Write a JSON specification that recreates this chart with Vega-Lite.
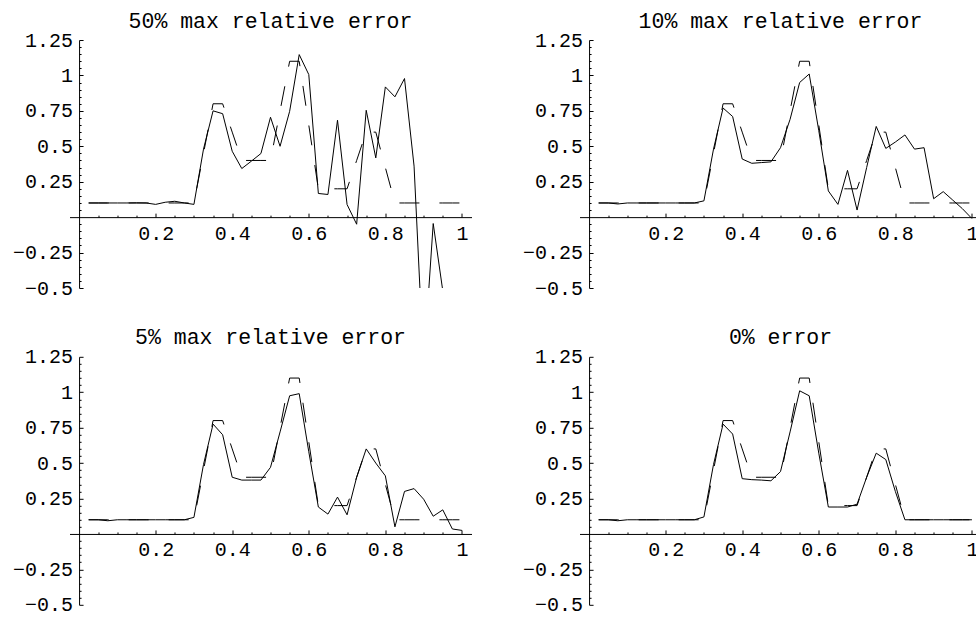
{
  "$schema": "https://vega.github.io/schema/vega-lite/v6.json",
  "padding": {"left": 12.5, "top": 10, "right": 5, "bottom": 8},
  "data": {"values": [
    {"x": 0.025, "truth": 0.1, "e50": 0.1, "e10": 0.1, "e5": 0.1, "e0": 0.1},
    {"x": 0.05, "truth": 0.1, "e50": 0.1, "e10": 0.1, "e5": 0.1, "e0": 0.1},
    {"x": 0.075, "truth": 0.1, "e50": 0.1, "e10": 0.093, "e5": 0.093, "e0": 0.093},
    {"x": 0.1, "truth": 0.1, "e50": 0.1, "e10": 0.1, "e5": 0.1, "e0": 0.1},
    {"x": 0.125, "truth": 0.1, "e50": 0.1, "e10": 0.1, "e5": 0.1, "e0": 0.1},
    {"x": 0.15, "truth": 0.1, "e50": 0.101, "e10": 0.1, "e5": 0.1, "e0": 0.1},
    {"x": 0.175, "truth": 0.1, "e50": 0.1, "e10": 0.1, "e5": 0.1, "e0": 0.1},
    {"x": 0.2, "truth": 0.1, "e50": 0.09, "e10": 0.1, "e5": 0.1, "e0": 0.1},
    {"x": 0.225, "truth": 0.1, "e50": 0.105, "e10": 0.1, "e5": 0.1, "e0": 0.1},
    {"x": 0.25, "truth": 0.1, "e50": 0.112, "e10": 0.1, "e5": 0.1, "e0": 0.1},
    {"x": 0.275, "truth": 0.1, "e50": 0.1, "e10": 0.1, "e5": 0.1, "e0": 0.1},
    {"x": 0.3, "truth": 0.1, "e50": 0.09, "e10": 0.115, "e5": 0.117, "e0": 0.12},
    {"x": 0.325, "truth": 0.45, "e50": 0.48, "e10": 0.48, "e5": 0.49, "e0": 0.49},
    {"x": 0.35, "truth": 0.8, "e50": 0.75, "e10": 0.77, "e5": 0.775, "e0": 0.775},
    {"x": 0.375, "truth": 0.8, "e50": 0.73, "e10": 0.71, "e5": 0.7, "e0": 0.705},
    {"x": 0.4, "truth": 0.6, "e50": 0.465, "e10": 0.41, "e5": 0.4, "e0": 0.39},
    {"x": 0.425, "truth": 0.4, "e50": 0.343, "e10": 0.38, "e5": 0.38, "e0": 0.383},
    {"x": 0.45, "truth": 0.4, "e50": 0.395, "e10": 0.385, "e5": 0.38, "e0": 0.38},
    {"x": 0.475, "truth": 0.4, "e50": 0.449, "e10": 0.39, "e5": 0.38, "e0": 0.375},
    {"x": 0.5, "truth": 0.4, "e50": 0.705, "e10": 0.49, "e5": 0.47, "e0": 0.44},
    {"x": 0.525, "truth": 0.75, "e50": 0.5, "e10": 0.69, "e5": 0.72, "e0": 0.72},
    {"x": 0.55, "truth": 1.1, "e50": 0.747, "e10": 0.95, "e5": 0.975, "e0": 1.01},
    {"x": 0.575, "truth": 1.1, "e50": 1.147, "e10": 1.01, "e5": 0.99, "e0": 0.975},
    {"x": 0.6, "truth": 0.65, "e50": 1.006, "e10": 0.61, "e5": 0.58, "e0": 0.57},
    {"x": 0.625, "truth": 0.2, "e50": 0.167, "e10": 0.185, "e5": 0.19, "e0": 0.19},
    {"x": 0.65, "truth": 0.2, "e50": 0.16, "e10": 0.09, "e5": 0.14, "e0": 0.19},
    {"x": 0.675, "truth": 0.2, "e50": 0.684, "e10": 0.33, "e5": 0.26, "e0": 0.19},
    {"x": 0.7, "truth": 0.2, "e50": 0.089, "e10": 0.05, "e5": 0.135, "e0": 0.21},
    {"x": 0.725, "truth": 0.4, "e50": -0.05, "e10": 0.35, "e5": 0.4, "e0": 0.4},
    {"x": 0.75, "truth": 0.6, "e50": 0.754, "e10": 0.64, "e5": 0.6, "e0": 0.57},
    {"x": 0.775, "truth": 0.6, "e50": 0.418, "e10": 0.485, "e5": 0.5, "e0": 0.525},
    {"x": 0.8, "truth": 0.35, "e50": 0.919, "e10": 0.53, "e5": 0.41, "e0": 0.3},
    {"x": 0.825, "truth": 0.1, "e50": 0.849, "e10": 0.58, "e5": 0.05, "e0": 0.1},
    {"x": 0.85, "truth": 0.1, "e50": 0.978, "e10": 0.48, "e5": 0.3, "e0": 0.1},
    {"x": 0.875, "truth": 0.1, "e50": 0.36, "e10": 0.49, "e5": 0.32, "e0": 0.1},
    {"x": 0.9, "truth": 0.1, "e50": -1.05, "e10": 0.13, "e5": 0.245, "e0": 0.1},
    {"x": 0.925, "truth": 0.1, "e50": -0.045, "e10": 0.18, "e5": 0.125, "e0": 0.1},
    {"x": 0.95, "truth": 0.1, "e50": -0.52, "e10": 0.12, "e5": 0.17, "e0": 0.1},
    {"x": 0.975, "truth": 0.1, "e50": -1.3, "e10": 0.06, "e5": 0.035, "e0": 0.1},
    {"x": 1.0, "truth": 0.1, "e50": -0.9, "e10": -0.01, "e5": 0.025, "e0": 0.1}
  ]},
  "columns": 2,
  "spacing": {"row": 68.8, "column": 108},
  "bounds": "flush",
  "concat": [
    {
      "title": {"text": "50% max relative error"},
      "width": 402, "height": 248,
      "layer": [
        {"mark": {"type": "line", "color": "black", "strokeWidth": 1, "strokeDash": [20, 20], "clip": true},
         "encoding": {
           "x": {"field": "x", "type": "quantitative", "scale": {"domain": [-0.025, 1.025], "nice": false, "zero": false},
                 "axis": {"orient": "top", "offset": -177.14, "title": null, "labels": false, "domain": false, "grid": false,
                          "values": [0.05,0.1,0.15,0.2,0.25,0.3,0.35,0.4,0.45,0.5,0.55,0.6,0.65,0.7,0.75,0.8,0.85,0.9,0.95,1],
                          "tickColor": "black", "tickWidth": 1,
                          "tickSize": {"condition": {"test": "abs(datum.value/0.2 - round(datum.value/0.2)) < 0.01", "value": 4}, "value": 2}}},
           "y": {"field": "truth", "type": "quantitative", "scale": {"domain": [-0.5, 1.25], "nice": false, "zero": false},
                 "axis": {"orient": "right", "offset": -392.43, "title": null, "labels": false, "domain": false, "grid": false,
                          "values": [-0.5,-0.45,-0.4,-0.35,-0.3,-0.25,-0.2,-0.15,-0.1,-0.05,0.05,0.1,0.15,0.2,0.25,0.3,0.35,0.4,0.45,0.5,0.55,0.6,0.65,0.7,0.75,0.8,0.85,0.9,0.95,1,1.05,1.1,1.15,1.2,1.25],
                          "tickColor": "black", "tickWidth": 1,
                          "tickSize": {"condition": {"test": "abs(datum.value/0.25 - round(datum.value/0.25)) < 0.01", "value": 4}, "value": 2}}}
         }},
        {"mark": {"type": "line", "color": "black", "strokeWidth": 1, "clip": true},
         "encoding": {
           "x": {"field": "x", "type": "quantitative", "scale": {"domain": [-0.025, 1.025], "nice": false, "zero": false},
                 "axis": {"orient": "bottom", "offset": -70.86, "title": null, "ticks": false, "tickSize": 0, "grid": false,
                          "values": [0.2, 0.4, 0.6, 0.8, 1], "labelExpr": "datum.value + ''", "labelPadding": 6,
                          "domain": true, "domainColor": "black", "domainWidth": 1}},
           "y": {"field": "e50", "type": "quantitative", "scale": {"domain": [-0.5, 1.25], "nice": false, "zero": false},
                 "axis": {"orient": "left", "offset": -9.57, "title": null, "ticks": false, "tickSize": 0, "grid": false,
                          "values": [-0.5, -0.25, 0.25, 0.5, 0.75, 1, 1.25], "labelExpr": "replace(datum.value + '', '-', '\u2212')", "labelPadding": 6.5,
                          "domain": true, "domainColor": "black", "domainWidth": 1}}
         }}
      ],
      "resolve": {"axis": {"x": "independent", "y": "independent"}}
    },
    {
      "title": {"text": "10% max relative error"},
      "width": 402, "height": 248,
      "layer": [
        {"mark": {"type": "line", "color": "black", "strokeWidth": 1, "strokeDash": [20, 20], "clip": true},
         "encoding": {
           "x": {"field": "x", "type": "quantitative", "scale": {"domain": [-0.025, 1.025], "nice": false, "zero": false},
                 "axis": {"orient": "top", "offset": -177.14, "title": null, "labels": false, "domain": false, "grid": false,
                          "values": [0.05,0.1,0.15,0.2,0.25,0.3,0.35,0.4,0.45,0.5,0.55,0.6,0.65,0.7,0.75,0.8,0.85,0.9,0.95,1],
                          "tickColor": "black", "tickWidth": 1,
                          "tickSize": {"condition": {"test": "abs(datum.value/0.2 - round(datum.value/0.2)) < 0.01", "value": 4}, "value": 2}}},
           "y": {"field": "truth", "type": "quantitative", "scale": {"domain": [-0.5, 1.25], "nice": false, "zero": false},
                 "axis": {"orient": "right", "offset": -392.43, "title": null, "labels": false, "domain": false, "grid": false,
                          "values": [-0.5,-0.45,-0.4,-0.35,-0.3,-0.25,-0.2,-0.15,-0.1,-0.05,0.05,0.1,0.15,0.2,0.25,0.3,0.35,0.4,0.45,0.5,0.55,0.6,0.65,0.7,0.75,0.8,0.85,0.9,0.95,1,1.05,1.1,1.15,1.2,1.25],
                          "tickColor": "black", "tickWidth": 1,
                          "tickSize": {"condition": {"test": "abs(datum.value/0.25 - round(datum.value/0.25)) < 0.01", "value": 4}, "value": 2}}}
         }},
        {"mark": {"type": "line", "color": "black", "strokeWidth": 1, "clip": true},
         "encoding": {
           "x": {"field": "x", "type": "quantitative", "scale": {"domain": [-0.025, 1.025], "nice": false, "zero": false},
                 "axis": {"orient": "bottom", "offset": -70.86, "title": null, "ticks": false, "tickSize": 0, "grid": false,
                          "values": [0.2, 0.4, 0.6, 0.8, 1], "labelExpr": "datum.value + ''", "labelPadding": 6,
                          "domain": true, "domainColor": "black", "domainWidth": 1}},
           "y": {"field": "e10", "type": "quantitative", "scale": {"domain": [-0.5, 1.25], "nice": false, "zero": false},
                 "axis": {"orient": "left", "offset": -9.57, "title": null, "ticks": false, "tickSize": 0, "grid": false,
                          "values": [-0.5, -0.25, 0.25, 0.5, 0.75, 1, 1.25], "labelExpr": "replace(datum.value + '', '-', '\u2212')", "labelPadding": 6.5,
                          "domain": true, "domainColor": "black", "domainWidth": 1}}
         }}
      ],
      "resolve": {"axis": {"x": "independent", "y": "independent"}}
    },
    {
      "title": {"text": "5% max relative error"},
      "width": 402, "height": 248,
      "layer": [
        {"mark": {"type": "line", "color": "black", "strokeWidth": 1, "strokeDash": [20, 20], "clip": true},
         "encoding": {
           "x": {"field": "x", "type": "quantitative", "scale": {"domain": [-0.025, 1.025], "nice": false, "zero": false},
                 "axis": {"orient": "top", "offset": -177.14, "title": null, "labels": false, "domain": false, "grid": false,
                          "values": [0.05,0.1,0.15,0.2,0.25,0.3,0.35,0.4,0.45,0.5,0.55,0.6,0.65,0.7,0.75,0.8,0.85,0.9,0.95,1],
                          "tickColor": "black", "tickWidth": 1,
                          "tickSize": {"condition": {"test": "abs(datum.value/0.2 - round(datum.value/0.2)) < 0.01", "value": 4}, "value": 2}}},
           "y": {"field": "truth", "type": "quantitative", "scale": {"domain": [-0.5, 1.25], "nice": false, "zero": false},
                 "axis": {"orient": "right", "offset": -392.43, "title": null, "labels": false, "domain": false, "grid": false,
                          "values": [-0.5,-0.45,-0.4,-0.35,-0.3,-0.25,-0.2,-0.15,-0.1,-0.05,0.05,0.1,0.15,0.2,0.25,0.3,0.35,0.4,0.45,0.5,0.55,0.6,0.65,0.7,0.75,0.8,0.85,0.9,0.95,1,1.05,1.1,1.15,1.2,1.25],
                          "tickColor": "black", "tickWidth": 1,
                          "tickSize": {"condition": {"test": "abs(datum.value/0.25 - round(datum.value/0.25)) < 0.01", "value": 4}, "value": 2}}}
         }},
        {"mark": {"type": "line", "color": "black", "strokeWidth": 1, "clip": true},
         "encoding": {
           "x": {"field": "x", "type": "quantitative", "scale": {"domain": [-0.025, 1.025], "nice": false, "zero": false},
                 "axis": {"orient": "bottom", "offset": -70.86, "title": null, "ticks": false, "tickSize": 0, "grid": false,
                          "values": [0.2, 0.4, 0.6, 0.8, 1], "labelExpr": "datum.value + ''", "labelPadding": 6,
                          "domain": true, "domainColor": "black", "domainWidth": 1}},
           "y": {"field": "e5", "type": "quantitative", "scale": {"domain": [-0.5, 1.25], "nice": false, "zero": false},
                 "axis": {"orient": "left", "offset": -9.57, "title": null, "ticks": false, "tickSize": 0, "grid": false,
                          "values": [-0.5, -0.25, 0.25, 0.5, 0.75, 1, 1.25], "labelExpr": "replace(datum.value + '', '-', '\u2212')", "labelPadding": 6.5,
                          "domain": true, "domainColor": "black", "domainWidth": 1}}
         }}
      ],
      "resolve": {"axis": {"x": "independent", "y": "independent"}}
    },
    {
      "title": {"text": "0% error"},
      "width": 402, "height": 248,
      "layer": [
        {"mark": {"type": "line", "color": "black", "strokeWidth": 1, "strokeDash": [20, 20], "clip": true},
         "encoding": {
           "x": {"field": "x", "type": "quantitative", "scale": {"domain": [-0.025, 1.025], "nice": false, "zero": false},
                 "axis": {"orient": "top", "offset": -177.14, "title": null, "labels": false, "domain": false, "grid": false,
                          "values": [0.05,0.1,0.15,0.2,0.25,0.3,0.35,0.4,0.45,0.5,0.55,0.6,0.65,0.7,0.75,0.8,0.85,0.9,0.95,1],
                          "tickColor": "black", "tickWidth": 1,
                          "tickSize": {"condition": {"test": "abs(datum.value/0.2 - round(datum.value/0.2)) < 0.01", "value": 4}, "value": 2}}},
           "y": {"field": "truth", "type": "quantitative", "scale": {"domain": [-0.5, 1.25], "nice": false, "zero": false},
                 "axis": {"orient": "right", "offset": -392.43, "title": null, "labels": false, "domain": false, "grid": false,
                          "values": [-0.5,-0.45,-0.4,-0.35,-0.3,-0.25,-0.2,-0.15,-0.1,-0.05,0.05,0.1,0.15,0.2,0.25,0.3,0.35,0.4,0.45,0.5,0.55,0.6,0.65,0.7,0.75,0.8,0.85,0.9,0.95,1,1.05,1.1,1.15,1.2,1.25],
                          "tickColor": "black", "tickWidth": 1,
                          "tickSize": {"condition": {"test": "abs(datum.value/0.25 - round(datum.value/0.25)) < 0.01", "value": 4}, "value": 2}}}
         }},
        {"mark": {"type": "line", "color": "black", "strokeWidth": 1, "clip": true},
         "encoding": {
           "x": {"field": "x", "type": "quantitative", "scale": {"domain": [-0.025, 1.025], "nice": false, "zero": false},
                 "axis": {"orient": "bottom", "offset": -70.86, "title": null, "ticks": false, "tickSize": 0, "grid": false,
                          "values": [0.2, 0.4, 0.6, 0.8, 1], "labelExpr": "datum.value + ''", "labelPadding": 6,
                          "domain": true, "domainColor": "black", "domainWidth": 1}},
           "y": {"field": "e0", "type": "quantitative", "scale": {"domain": [-0.5, 1.25], "nice": false, "zero": false},
                 "axis": {"orient": "left", "offset": -9.57, "title": null, "ticks": false, "tickSize": 0, "grid": false,
                          "values": [-0.5, -0.25, 0.25, 0.5, 0.75, 1, 1.25], "labelExpr": "replace(datum.value + '', '-', '\u2212')", "labelPadding": 6.5,
                          "domain": true, "domainColor": "black", "domainWidth": 1}}
         }}
      ],
      "resolve": {"axis": {"x": "independent", "y": "independent"}}
    }
  ],
  "config": {
    "view": {"stroke": null},
    "axis": {"labelFont": "Liberation Mono", "labelFontSize": 20, "labelColor": "black", "labelFlush": false, "labelOverlap": false, "labelBound": false, "grid": false},
    "title": {"font": "Liberation Mono", "fontSize": 21.5, "fontWeight": "normal", "color": "black", "anchor": "middle", "frame": "group", "offset": -2, "baseline": "alphabetic"}
  }
}
